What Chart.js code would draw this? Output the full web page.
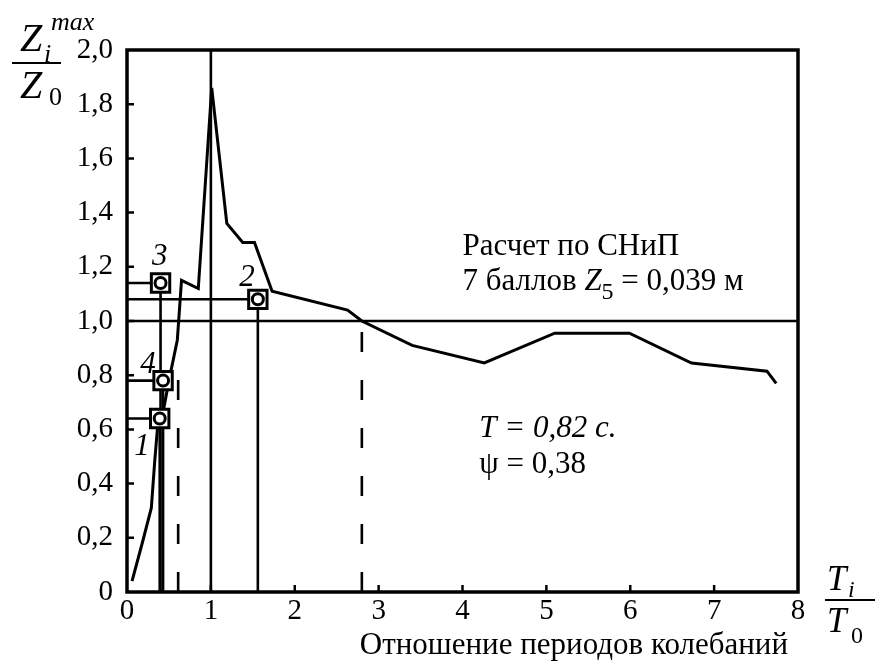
<!DOCTYPE html>
<html>
<head>
<meta charset="utf-8">
<script src="https://cdn.jsdelivr.net/npm/chart.js@4.4.0/dist/chart.umd.min.js"></script>
<style>
  html, body { margin: 0; padding: 0; background: #fff; }
</style>
</head>
<body>
<canvas id="myChart" width="876" height="662"></canvas>
<script>
// кривая Z_i^max / Z_0 в зависимости от T_i / T_0
const ratio = [0.06, 0.19, 0.29, 0.33, 0.37, 0.44, 0.50, 0.60, 0.65, 0.85, 1.01, 1.19, 1.38, 1.52, 1.73, 2.63, 2.80, 3.40, 4.26, 5.10, 5.99, 6.73, 7.63, 7.74];
const zRatio = [0.04, 0.19, 0.31, 0.48, 0.63, 0.68, 0.78, 0.93, 1.15, 1.12, 1.86, 1.36, 1.29, 1.29, 1.11, 1.04, 1.00, 0.91, 0.845, 0.955, 0.955, 0.845, 0.815, 0.77];

// точки 1..4
const markerNames = ["1", "2", "3", "4"];
const markerX = [0.39, 1.56, 0.40, 0.43];
const markerY = [0.64, 1.08, 1.14, 0.78];
// где стоят номера точек
const nameX = [0.18, 1.43, 0.39, 0.25];
const nameY = [0.535, 1.16, 1.236, 0.84];

// пунктир
const dashX = [0.61, 2.80];
const dashTop = [0.82, 1.00];

const resonanceX = 1.0;
const unityY = 1.0;

const xTicks = [0, 1, 2, 3, 4, 5, 6, 7, 8];
const yTicks = [0, 0.2, 0.4, 0.6, 0.8, 1.0, 1.2, 1.4, 1.6, 1.8, 2.0];

const serif = "'Liberation Serif', 'DejaVu Serif', serif";

function pts(xs, ys) {
  const out = [];
  for (let i = 0; i < xs.length; i++) out.push({ x: xs[i], y: ys[i] });
  return out;
}

function fmtY(v) {
  if (Math.abs(v) < 1e-9) return "0";
  return v.toFixed(1).replace(".", ",");
}

// order: чем больше, тем ниже рисуется
const thin = { borderColor: "#000", borderWidth: 2.6, pointRadius: 0, showLine: true, fill: false, order: 3 };

const datasets = [];
// горизонтальная линия 1,0
datasets.push(Object.assign({ data: [{ x: 0, y: unityY }, { x: 8, y: unityY }] }, thin));
// вертикаль при T_i/T_0 = 1
datasets.push(Object.assign({ data: [{ x: resonanceX, y: 0 }, { x: resonanceX, y: 2 }] }, thin));
// выноски от точек к осям
for (let i = 0; i < markerX.length; i++) {
  datasets.push(Object.assign({
    data: [{ x: 0, y: markerY[i] }, { x: markerX[i], y: markerY[i] }, { x: markerX[i], y: 0 }]
  }, thin));
}
// пунктирные вертикали
for (let i = 0; i < dashX.length; i++) {
  datasets.push(Object.assign({
    data: [{ x: dashX[i], y: 0 }, { x: dashX[i], y: dashTop[i] }],
    borderDash: [20, 28]
  }, thin));
}
// основная кривая
datasets.push({
  data: pts(ratio, zRatio),
  showLine: true,
  borderColor: "#000",
  borderWidth: 3,
  pointRadius: 0,
  tension: 0,
  fill: false,
  order: 2
});
// квадратики
datasets.push({
  data: pts(markerX, markerY),
  showLine: false,
  pointStyle: "rect",
  pointRadius: 13,
  pointBackgroundColor: "#fff",
  pointBorderColor: "#000",
  pointBorderWidth: 3,
  order: 1
});
// кружки внутри
datasets.push({
  data: pts(markerX, markerY),
  showLine: false,
  pointStyle: "circle",
  pointRadius: 5.5,
  pointBackgroundColor: "#fff",
  pointBorderColor: "#000",
  pointBorderWidth: 3,
  order: 0
});

function rich(ctx, x, y, parts) {
  // parts: [текст, шрифт, сдвиг по y]
  let cx = x;
  ctx.textAlign = "left";
  ctx.textBaseline = "alphabetic";
  for (const p of parts) {
    ctx.font = p[1];
    ctx.fillText(p[0], cx, y + (p[2] || 0));
    cx += ctx.measureText(p[0]).width;
  }
}

const decorPlugin = {
  id: "decor",
  afterDatasetsDraw(chart) {
    const ctx = chart.ctx;
    const a = chart.chartArea;
    const xs = chart.scales.x;
    const ys = chart.scales.y;
    ctx.save();
    ctx.strokeStyle = "#000";
    ctx.fillStyle = "#000";

    // рамка
    ctx.lineWidth = 3.5;
    ctx.strokeRect(a.left, a.top, a.right - a.left, a.bottom - a.top);

    // внутренние засечки
    ctx.lineWidth = 2.5;
    ctx.beginPath();
    for (const v of yTicks) {
      if (v === 0 || v === 2) continue;
      const py = ys.getPixelForValue(v);
      ctx.moveTo(a.left, py);
      ctx.lineTo(a.left + 7, py);
    }
    for (const v of xTicks) {
      if (v === 0 || v === 8) continue;
      const px = xs.getPixelForValue(v);
      ctx.moveTo(px, a.bottom);
      ctx.lineTo(px, a.bottom - 7);
    }
    ctx.stroke();

    // номера точек
    ctx.font = "italic 31px " + serif;
    ctx.textAlign = "center";
    ctx.textBaseline = "middle";
    for (let i = 0; i < markerNames.length; i++) {
      ctx.fillText(markerNames[i], xs.getPixelForValue(nameX[i]), ys.getPixelForValue(nameY[i]));
    }

    // надписи в поле графика
    const f = "31px " + serif;
    const fi = "italic 31px " + serif;
    const fs = "24px " + serif;
    let px = xs.getPixelForValue(4.0);
    rich(ctx, px, ys.getPixelForValue(1.28) + 10, [["Расчет по СНиП", f]]);
    rich(ctx, px, ys.getPixelForValue(1.15) + 10, [
      ["7 баллов ", f], ["Z", fi], ["5", fs, 9], [" = 0,039 м", f]
    ]);
    px = xs.getPixelForValue(4.2);
    rich(ctx, px, ys.getPixelForValue(0.61) + 10, [["T = 0,82 с.", fi]]);
    rich(ctx, px, ys.getPixelForValue(0.476) + 10, [["ψ = 0,38", f]]);

    // подпись оси Y: Z_i^max / Z_0
    const big = "italic 40px " + serif;
    const sm = "italic 26px " + serif;
    rich(ctx, 20, 51, [["Z", big]]);
    rich(ctx, 44, 62, [["i", sm]]);
    rich(ctx, 51, 30, [["max", sm]]);
    rich(ctx, 20, 98, [["Z", big]]);
    rich(ctx, 49, 105, [["0", "26px " + serif]]);
    ctx.lineWidth = 2;
    ctx.beginPath();
    ctx.moveTo(12, 63);
    ctx.lineTo(61, 63);
    ctx.stroke();

    // подпись оси X: T_i / T_0
    const bigT = "italic 35px " + serif;
    rich(ctx, a.right + 29, a.bottom - 2, [["T", bigT]]);
    rich(ctx, a.right + 50, a.bottom + 5, [["i", "italic 24px " + serif]]);
    ctx.beginPath();
    ctx.moveTo(a.right + 27, a.bottom + 8);
    ctx.lineTo(a.right + 77, a.bottom + 8);
    ctx.stroke();
    rich(ctx, a.right + 29, a.bottom + 40, [["T", bigT]]);
    rich(ctx, a.right + 53, a.bottom + 51, [["0", "24px " + serif]]);

    ctx.font = "31px " + serif;
    ctx.textAlign = "right";
    ctx.textBaseline = "alphabetic";
    ctx.fillText("Отношение периодов колебаний", a.right - 10, a.bottom + 62);

    ctx.restore();
  }
};

new Chart(document.getElementById("myChart"), {
  type: "scatter",
  data: { datasets: datasets },
  options: {
    responsive: false,
    animation: false,
    events: [],
    layout: { padding: { left: 0, right: 78, top: 50, bottom: 0 } },
    plugins: {
      legend: { display: false },
      tooltip: { enabled: false }
    },
    scales: {
      x: {
        type: "linear",
        min: 0,
        max: 8,
        afterFit: (s) => { s.height = 70; },
        afterBuildTicks: (s) => { s.ticks = xTicks.map(v => ({ value: v })); },
        grid: { display: false, drawTicks: false },
        border: { display: false },
        ticks: {
          color: "#000",
          font: { family: serif, size: 29 },
          padding: 2,
          maxRotation: 0,
          callback: (v) => String(v)
        }
      },
      y: {
        type: "linear",
        min: 0,
        max: 2,
        afterFit: (s) => { s.width = 127; },
        afterBuildTicks: (s) => { s.ticks = yTicks.map(v => ({ value: v })); },
        grid: { display: false, drawTicks: false },
        border: { display: false },
        ticks: {
          color: "#000",
          font: { family: serif, size: 29 },
          padding: 14,
          callback: (v) => fmtY(v)
        }
      }
    }
  },
  plugins: [decorPlugin]
});
</script>
</body>
</html>
